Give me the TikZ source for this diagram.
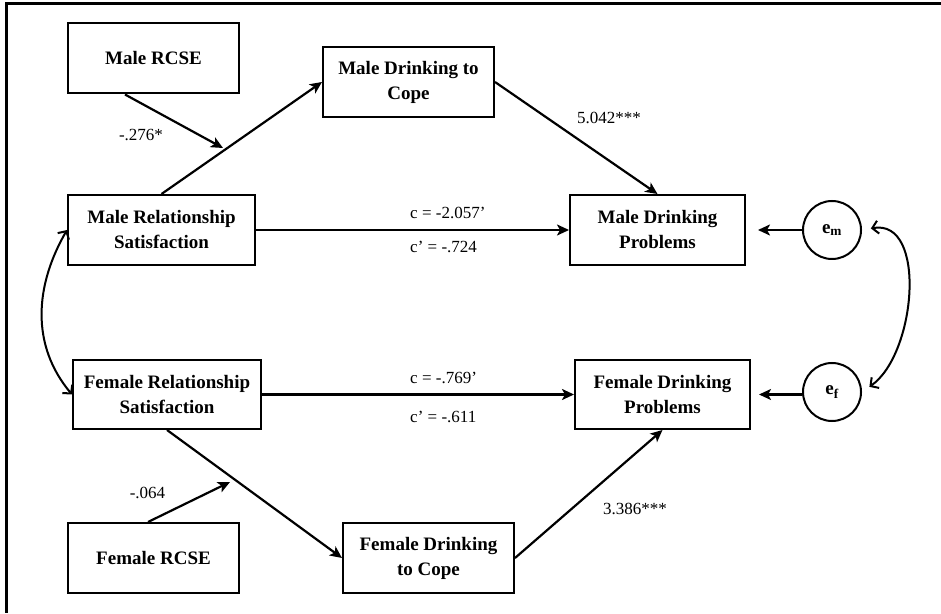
\documentclass[tikz,border=0pt]{standalone}
\usepackage{fontspec}
\setmainfont{Liberation Serif}
\usepackage{tikz}
\usetikzlibrary{arrows.meta, positioning}
\tikzset{
	varbox/.style={draw, line width=2pt, minimum height=70pt, align=center, inner sep=2pt, font=\fontsize{19}{25}\selectfont\bfseries},
	errcirc/.style={draw, circle, line width=2pt, minimum size=58pt, inner sep=0pt, font=\fontsize{19}{22}\selectfont\bfseries},
	coef/.style={inner sep=0pt, font=\fontsize{17}{20}\selectfont},
	patharrow/.style={line width=2.2pt, -{Stealth[length=12pt, width=11pt, inset=3pt]}},
	covarrow/.style={line width=2pt, {Straight Barb[length=6pt, width=13pt]}-{Straight Barb[length=6pt, width=13pt]}},
}

\begin{document}
\begin{tikzpicture}[x=1pt, y=1pt]
			\useasboundingbox (0,0) rectangle (941,613);
			\draw[line width=3pt] (941,609) -- (6,609) -- (6,0);

			\node[varbox, minimum width=171pt] (mrcse) at (153.5,554.5) {Male RCSE};
			\node[varbox, minimum width=171pt] (mcope) at (408.5,531) {Male Drinking to\\Cope};
			\node[varbox, minimum width=187pt] (mrel) at (161.5,383) {Male Relationship\\Satisfaction};
			\node[varbox, minimum width=175pt] (mdp) at (657.5,383) {Male Drinking\\Problems};
			\node[errcirc] (em) at (832,383) {e\textsubscript{m}};

			\node[varbox, minimum width=188pt, minimum height=69pt] (frel) at (167,218.5) {Female Relationship\\Satisfaction};
			\node[varbox, minimum width=175pt, minimum height=69pt] (fdp) at (662.5,218.5) {Female Drinking\\Problems};
			\node[errcirc] (ef) at (832,221) {e\textsubscript{f}};
			\node[varbox, minimum width=171pt] (frcse) at (153.5,55) {Female RCSE};
			\node[varbox, minimum width=171pt] (fcope) at (428.5,55) {Female Drinking\\to Cope};

			\coordinate (mmod) at (223,465);
			\coordinate (fmod) at (230,131);

			% male paths
			\draw[patharrow] (mrel.north) -- (mcope.west);
			\draw[patharrow] ([xshift=-28.5pt]mrcse.south) -- (mmod);
			\draw[patharrow] (mcope.east) -- (mdp.north);
			\draw[patharrow] (mrel.east) -- (mdp.west);
			\draw[patharrow, shorten >=12pt] (em.west) -- (mdp.east);

			% female paths
			\draw[patharrow] (frel.south) -- (fcope.west);
			\draw[patharrow] ([xshift=-5.5pt]frcse.north) -- (fmod);
			\draw[patharrow] (fcope.east) -- (fdp.south);
			\draw[patharrow] (frel.east) -- (fdp.west);
			\draw[patharrow, shorten >=8pt] (ef.west |- fdp.east) -- (fdp.east);

			% covariances
			\draw[covarrow] (mrel.west) to[out=-120, in=130] (frel.west);
			\draw[covarrow, shorten <=9pt, shorten >=9pt] (em.east) to[out=10, in=35, looseness=1.05] (ef.east);

			\node[coef] (lmrcse) at (141,478) {-.276*};
			\node[coef] (lmcope) at (609,495) {5.042***};
			\node[coef, anchor=west] (lmc) at (410,400) {c = -2.057'};
			\node[coef, anchor=west] (lmcp) at (410,366) {c' = -.724};
			\node[coef, anchor=west] (lfc) at (410,235) {c = -.769'};
			\node[coef, anchor=west] (lfcp) at (410,196) {c' = -.611};
			\node[coef] (lfrcse) at (147.5,120) {-.064};
			\node[coef] (lfcope) at (635,104) {3.386***};
		\end{tikzpicture}
\end{document}
